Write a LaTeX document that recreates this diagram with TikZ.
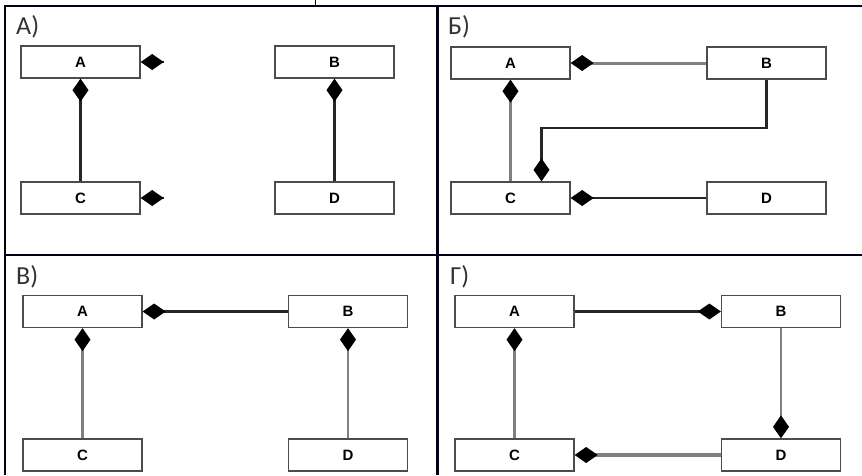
\documentclass[tikz,border=0pt]{standalone}
\usepackage{fontspec}
\setmainfont{Liberation Sans}
\newfontfamily\labelfont{Carlito}
\usetikzlibrary{arrows.meta,positioning}
\tikzset{
  cls/.style={draw=black!70, line width=1.3pt, fill=white, minimum width=119pt,
    minimum height=32pt, inner sep=0pt, font=\bfseries\fontsize{15}{15}\selectfont},
  comp/.style={draw=black!85, line width=2.2pt,
    -{Diamond[length=23pt,width=16pt,color=black]}},
  pale/.style={draw=black!50, line width=2.6pt},
  frame/.style={line width=2.6pt, draw=black!90!blue},
  tag/.style={anchor=base west, inner sep=0pt, text=black!80,
    font=\labelfont\fontsize{26}{26}\selectfont}
}
\begin{document}
\begin{tikzpicture}[x=1pt, y=-1pt]
  \useasboundingbox (0,0) rectangle (862,475);
  % frame
  \draw[frame] (5,475) -- (5,6) -- (862,6);
  \draw[frame] (5,255) -- (862,255);
  \draw[frame] (437.5,6) -- (437.5,475);
  \draw[line width=1pt] (315,0) -- (315,6);

  % labels
  \node[tag] (tA) at (16,34) {А)};
  \node[tag] (tB) at (448,34) {Б)};
  \node[tag] (tC) at (16,284) {В)};
  \node[tag] (tD) at (450,284) {Г)};

  % A)
  \node[cls] (A1) at (80.5,62) {A};
  \node[cls] (B1) at (334.5,62) {B};
  \node[cls] (C1) at (80.5,198) {C};
  \node[cls] (D1) at (334.5,198) {D};
  \coordinate (a1) at ([xshift=23pt]A1.east);
  \coordinate (c1) at ([xshift=23pt]C1.east);
  \draw[comp] (a1) -- (A1.east);
  \draw[comp] (c1) -- (C1.east);
  \draw[comp] (C1.north) -- (A1.south);
  \draw[comp] (D1.north) -- (B1.south);

  % Б)
  \node[cls] (A2) at (510.5,63) {A};
  \node[cls] (B2) at (766.5,63) {B};
  \node[cls] (C2) at (510.5,198) {C};
  \node[cls] (D2) at (766.5,198) {D};
  \coordinate (k2) at ([xshift=31pt]C2.north);
  \draw[comp, pale, line width=3pt] (B2.west) -- (A2.east);
  \draw[comp, pale] (C2.north) -- (A2.south);
  \draw[comp] (B2.south) -- ++(0,48) -| (k2);
  \draw[comp, line width=1.6pt] (D2.west) -- (C2.east);

  \begin{scope}[every node/.append style={minimum width=123pt, minimum height=33pt}]
    % В)
    \node[cls] (A3) at (82.5,311.5) {A};
    \node[cls] (B3) at (348,311.5) {B};
    \node[cls] (C3) at (82.5,455) {C};
    \node[cls] (D3) at (348,455) {D};
    \draw[comp] (B3.west) -- (A3.east);
    \draw[comp, pale] (C3.north) -- (A3.south);
    \draw[comp, pale] (D3.north) -- (B3.south);

    % Г)
    \node[cls] (A4) at (514.5,311.5) {A};
    \node[cls] (B4) at (781,311.5) {B};
    \node[cls] (C4) at (514.5,455) {C};
    \node[cls] (D4) at (781,455) {D};
    \draw[comp] (A4.east) -- (B4.west);
    \draw[comp, pale] (C4.north) -- (A4.south);
    \draw[comp, pale] (B4.south) -- (D4.north);
    \draw[comp, pale, line width=3.5pt] (D4.west) -- (C4.east);
  \end{scope}
\end{tikzpicture}
\end{document}
